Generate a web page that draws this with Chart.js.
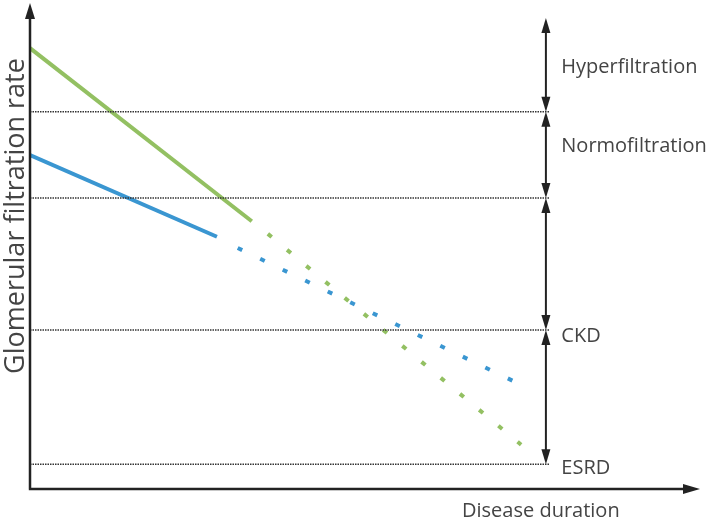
<!DOCTYPE html>
<html>
<head>
<meta charset="utf-8">
<script src="https://cdn.jsdelivr.net/npm/chart.js@4"></script>
<style>
  body { margin: 0; background: #fff; }
  #wrap { width: 709px; height: 522px; }
</style>
</head>
<body>
<div id="wrap"><canvas id="gfrChart"></canvas></div>
<script>
/* GFR course over disease duration (schematic, arbitrary units 0-100) */
const greenSolidX = [0, 33.1];
const greenSolidY = [90.7, 55.1];
const greenDotX = [35.5, 73.3];
const greenDotY = [52.5, 9.1];
const blueSolidX = [0, 27.9];
const blueSolidY = [68.7, 51.9];
const blueDotX = [31.0, 72.0];
const blueDotY = [49.6, 22.3];

// stage boundaries on the GFR axis
const bandLevels = [77.6, 59.9, 32.7, 5.1];
const bandEndX = 77.6;
const arrowX = 77.0;
const arrowStops = [96.9, 77.6, 59.9, 32.7, 5.1];

const stageNames = ["Hyperfiltration", "Normofiltration", "CKD", "ESRD"];
const stageLabelY = [85.6, 69.3, 30.2, 3.1];
const stageLabelX = 79.3;

const xTitle = "Disease duration";
const yTitle = "Glomerular filtration rate";

const GREEN = "#93c062";
const BLUE = "#3a96d1";
const INK = "#222222";
const TEXT = "#444444";

function pts(xs, ys) {
  return xs.map((x, i) => ({ x: x, y: ys[i] }));
}

const datasets = [];
bandLevels.forEach(function (lv) {
  datasets.push({
    data: [{ x: 0, y: lv }, { x: bandEndX, y: lv }],
    borderColor: "#333333",
    borderWidth: 1.5,
    borderDash: [1.5, 1],
  });
});
datasets.push({ data: pts(greenSolidX, greenSolidY), borderColor: GREEN, borderWidth: 4 });
datasets.push({ data: pts(greenDotX, greenDotY), borderColor: GREEN, borderWidth: 4, borderDash: [5, 20] });
datasets.push({ data: pts(blueSolidX, blueSolidY), borderColor: BLUE, borderWidth: 4 });
datasets.push({ data: pts(blueDotX, blueDotY), borderColor: BLUE, borderWidth: 4, borderDash: [5, 20] });

function arrowHead(ctx, x, y, dir, len, half) {
  // dir: 'up','down','right'
  ctx.beginPath();
  if (dir === "up") {
    ctx.moveTo(x, y); ctx.lineTo(x - half, y + len); ctx.lineTo(x + half, y + len);
  } else if (dir === "down") {
    ctx.moveTo(x, y); ctx.lineTo(x - half, y - len); ctx.lineTo(x + half, y - len);
  } else {
    ctx.moveTo(x, y); ctx.lineTo(x - len, y - half); ctx.lineTo(x - len, y + half);
  }
  ctx.closePath();
  ctx.fill();
}

const schemePlugin = {
  id: "scheme",
  afterDraw: function (chart) {
    const ctx = chart.ctx;
    const xs = chart.scales.x, ys = chart.scales.y;
    const left = xs.getPixelForValue(0), bottom = ys.getPixelForValue(0);
    const top = ys.getPixelForValue(100), right = xs.getPixelForValue(100);
    ctx.save();
    ctx.strokeStyle = INK;
    ctx.fillStyle = INK;

    // axes
    ctx.lineWidth = 2.5;
    ctx.beginPath();
    ctx.moveTo(left, bottom);
    ctx.lineTo(left, top + 12);
    ctx.moveTo(left - 1.2, bottom);
    ctx.lineTo(right - 12, bottom);
    ctx.stroke();
    arrowHead(ctx, left, top, "up", 16, 5);
    arrowHead(ctx, right, bottom, "right", 17, 5);

    // double arrows between stage boundaries
    const ax = xs.getPixelForValue(arrowX);
    ctx.lineWidth = 2;
    for (let i = 0; i < arrowStops.length - 1; i++) {
      const y1 = ys.getPixelForValue(arrowStops[i]);
      const y2 = ys.getPixelForValue(arrowStops[i + 1]);
      ctx.beginPath();
      ctx.moveTo(ax, y1 + 10);
      ctx.lineTo(ax, y2 - 10);
      ctx.stroke();
      arrowHead(ctx, ax, y1, "up", 15, 4.5);
      arrowHead(ctx, ax, y2, "down", 15, 4.5);
    }

    // texts
    ctx.fillStyle = TEXT;
    ctx.font = "20px 'Open Sans'";
    ctx.textAlign = "left";
    ctx.textBaseline = "alphabetic";
    stageNames.forEach(function (name, i) {
      ctx.fillText(name, xs.getPixelForValue(stageLabelX), ys.getPixelForValue(stageLabelY[i]));
    });
    ctx.fillText(xTitle, 462, 517);

    ctx.translate(24, 216);
    ctx.rotate(-Math.PI / 2);
    ctx.font = "27px 'Open Sans'";
    ctx.textAlign = "center";
    ctx.fillText(yTitle, 0, 0);
    ctx.restore();
  },
};

const config = {
  type: "scatter",
  data: { datasets: datasets },
  options: {
    responsive: true,
    maintainAspectRatio: false,
    devicePixelRatio: 1,
    animation: false,
    showLine: true,
    elements: {
      point: { radius: 0, hoverRadius: 0 },
      line: { borderCapStyle: "butt", fill: false, tension: 0 },
    },
    layout: { padding: { left: 30, right: 9, top: 3, bottom: 33 } },
    scales: {
      x: { type: "linear", min: 0, max: 100, display: false },
      y: { type: "linear", min: 0, max: 100, display: false },
    },
    plugins: {
      legend: { display: false },
      tooltip: { enabled: false },
    },
  },
  plugins: [schemePlugin],
};

var gfrChart = new Chart(document.getElementById("gfrChart"), config);
</script>
</body>
</html>
